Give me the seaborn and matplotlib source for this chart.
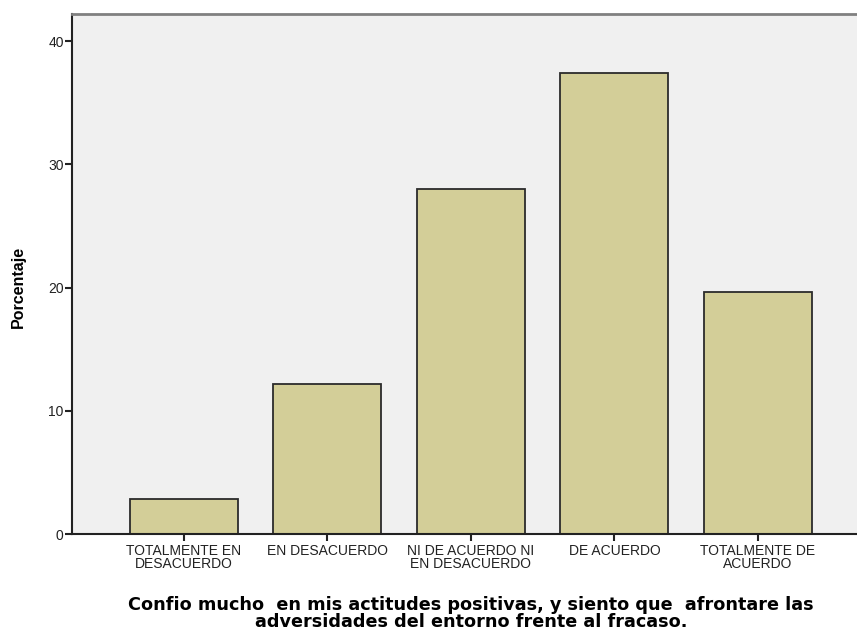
import matplotlib
matplotlib.use("Agg")
import matplotlib.pyplot as plt
import pandas as pd
import seaborn as sns

categories = [
    "TOTALMENTE EN\nDESACUERDO",
    "EN DESACUERDO",
    "NI DE ACUERDO NI\nEN DESACUERDO",
    "DE ACUERDO",
    "TOTALMENTE DE\nACUERDO",
]
percentages = [2.8, 12.2, 28.0, 37.4, 19.6]
y_ticks = [0, 10, 20, 30, 40]

BAR_COLOR = "#D3CE98"
BG_COLOR = "#F0F0F0"

sns.set_style("white")
plt.rcParams["font.family"] = ["Liberation Sans", "DejaVu Sans"]

df = pd.DataFrame({"category": categories, "pct": percentages})

fig = plt.figure(figsize=(8.57, 6.32), dpi=100)
ax = fig.add_axes([72 / 857, 98 / 632, 785 / 857, 520 / 632])
ax.set_facecolor(BG_COLOR)

sns.barplot(data=df, x="category", y="pct", color=BAR_COLOR, saturation=1,
            edgecolor="#2b2b2b", linewidth=1.3, width=0.753, ax=ax)

ax.set_xlim(-0.78, 4.69)
ax.set_ylim(0, 42.2)
ax.set_yticks(y_ticks)
ax.set_yticklabels([str(t) for t in y_ticks], fontsize=10, color="#222222")
ax.tick_params(axis="x", labelsize=10, colors="#222222", length=5, width=1.5,
               direction="out", bottom=True, color="#222222", pad=2)
ax.tick_params(axis="y", length=5, width=1.5, direction="out", left=True,
               color="#222222", pad=1)
for lbl in ax.get_xticklabels():
    lbl.set_linespacing(0.95)

for side in ["left", "bottom"]:
    ax.spines[side].set_color("#222222")
    ax.spines[side].set_linewidth(1.5)
ax.spines["top"].set_color("#808080")
ax.spines["top"].set_linewidth(2)
ax.spines["right"].set_visible(False)

ax.set_ylabel("Porcentaje", fontsize=11.5, fontweight="bold", color="black")
ax.yaxis.set_label_coords(-0.059, 0.475)
ax.set_xlabel("Confio mucho  en mis actitudes positivas, y siento que  afrontare las\n"
              "adversidades del entorno frente al fracaso.",
              fontsize=12.7, fontweight="bold", family="DejaVu Sans",
              color="black", linespacing=0.92)
ax.xaxis.set_label_coords(0.508, -0.119)

fig.savefig("out.png", dpi=100, facecolor="white")
